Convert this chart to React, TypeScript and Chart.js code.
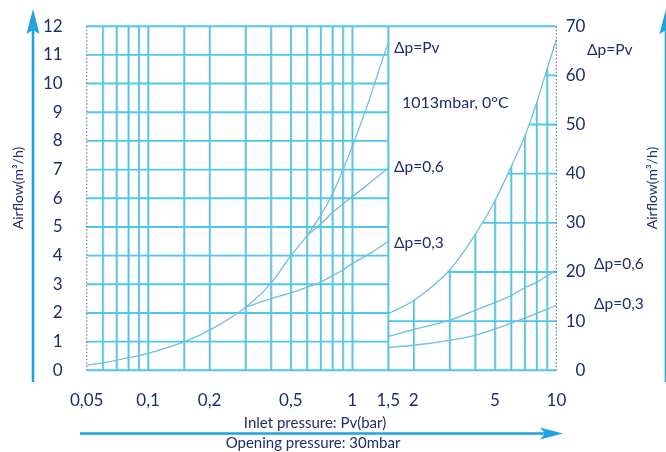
import React, { useEffect, useRef } from "react";
import { Chart, registerables } from "chart.js";

Chart.register(...registerables);

// ---- axis ticks / grid values ----
const xTickValues = [0.05, 0.1, 0.2, 0.5, 1, 1.5, 2, 5, 10];
const leftYTicks = [0, 1, 2, 3, 4, 5, 6, 7, 8, 9, 10, 11, 12];
const rightYTicks = [0, 10, 20, 30, 40, 50, 60, 70];
const leftGridX = [0.06, 0.07, 0.08, 0.09, 0.1, 0.15, 0.2, 0.3, 0.4, 0.5, 0.6, 0.7, 0.8, 0.9, 1];
const rightGridX = [2, 3, 4, 5, 6, 7, 8, 9];
const leftGridY = [1, 2, 3, 4, 5, 6, 7, 8, 9, 10, 11];
const rightGridY = [10, 20, 30, 40, 50, 60];
const panelSplit = 1.5;

// ---- series (left panel, m³/h 0..12) ----
const pvLeftX = [0.05, 0.06, 0.07, 0.08, 0.09, 0.1, 0.15, 0.2, 0.3, 0.4, 0.5, 0.6, 0.7, 0.8, 0.9, 1, 1.1, 1.2, 1.3, 1.4, 1.5];
const pvLeftY = [0.18, 0.26, 0.35, 0.44, 0.51, 0.59, 0.99, 1.4, 2.2, 3.04, 4.0, 4.7, 5.4, 6.15, 7.0, 7.8, 8.6, 9.35, 10.1, 10.8, 11.4];
const p06LeftX = [0.6, 0.7, 0.8, 0.9, 1, 1.25, 1.5];
const p06LeftY = [4.7, 5.1, 5.5, 5.8, 6.05, 6.6, 7.05];
const p03LeftX = [0.3, 0.4, 0.5, 0.6, 0.7, 0.8, 0.9, 1, 1.25, 1.5];
const p03LeftY = [2.2, 2.5, 2.7, 2.9, 3.08, 3.3, 3.5, 3.72, 4.12, 4.5];

// ---- series (right panel, m³/h 0..70) ----
const rightX = [1.5, 2, 3, 4, 5, 6, 7, 8, 9, 10];
const pvRightY = [11.5, 14.2, 20.4, 27.6, 34.5, 41.4, 47.6, 54.4, 61.3, 67.3];
const p06RightY = [6.9, 8.3, 10.2, 12.2, 13.8, 15.2, 16.8, 17.9, 19.2, 20.3];
const p03RightY = [4.65, 5.1, 6.1, 7.1, 8.4, 9.6, 10.6, 11.6, 12.4, 13.2];

const NAVY = "#1d2d6b";
const GRID = "#4cc8ec";
const GRID2 = "rgba(110,150,185,0.5)";
const CURVE = "#72bedc";
const ARROW = "#1ba4e0";
const FONT = "Lato, 'Open Sans', sans-serif";

const fmt = (v: number) => String(v).replace(".", ",");
const pts = (xs: number[], ys: number[]) => xs.map((x, i) => ({ x, y: ys[i] }));

const gridPlugin = {
  id: "customGrid",
  beforeDraw(chart: any) {
    const { ctx, chartArea, scales } = chart;
    const { left, right, top, bottom } = chartArea;
    const x = scales.x, y = scales.y, y2 = scales.y2;
    const xs = x.getPixelForValue(panelSplit);
    ctx.save();
    const vline = (px: number) => {
      ctx.strokeStyle = GRID;
      ctx.lineWidth = 1.6;
      ctx.beginPath(); ctx.moveTo(px, top); ctx.lineTo(px, bottom); ctx.stroke();
      ctx.strokeStyle = GRID2;
      ctx.lineWidth = 0.8;
      ctx.beginPath(); ctx.moveTo(px + 1, top); ctx.lineTo(px + 1, bottom); ctx.stroke();
    };
    leftGridX.forEach((v) => vline(x.getPixelForValue(v)));
    rightGridX.forEach((v) => vline(x.getPixelForValue(v)));
    ctx.strokeStyle = GRID;
    ctx.lineWidth = 1.9;
    leftGridY.forEach((v) => {
      const py = y.getPixelForValue(v);
      ctx.beginPath(); ctx.moveTo(left, py); ctx.lineTo(xs, py); ctx.stroke();
    });
    rightGridY.forEach((v) => {
      const py = y2.getPixelForValue(v);
      ctx.beginPath(); ctx.moveTo(xs, py); ctx.lineTo(right, py); ctx.stroke();
    });
    ctx.restore();
  },
  afterDatasetsDraw(chart: any) {
    const { ctx, chartArea, scales } = chart;
    const { left, right, top, bottom } = chartArea;
    const x = scales.x;
    const xs = x.getPixelForValue(panelSplit);
    ctx.save();
    ctx.strokeStyle = GRID;
    ctx.lineWidth = 1.9;
    ctx.beginPath(); ctx.moveTo(left, top); ctx.lineTo(right, top); ctx.stroke();
    ctx.beginPath(); ctx.moveTo(left, bottom); ctx.lineTo(right, bottom); ctx.stroke();
    ctx.lineWidth = 1.6;
    ctx.beginPath(); ctx.moveTo(xs, top); ctx.lineTo(xs, bottom); ctx.stroke();
    ctx.strokeStyle = GRID2;
    ctx.lineWidth = 0.8;
    ctx.beginPath(); ctx.moveTo(xs + 1, top); ctx.lineTo(xs + 1, bottom); ctx.stroke();
    ctx.strokeStyle = "rgba(60,90,140,0.8)";
    ctx.lineWidth = 1.2;
    ctx.setLineDash([1.5, 2]);
    ctx.beginPath(); ctx.moveTo(left, top); ctx.lineTo(left, bottom); ctx.stroke();
    ctx.beginPath(); ctx.moveTo(right, top); ctx.lineTo(right, bottom); ctx.stroke();
    ctx.setLineDash([]);
    ctx.restore();
  },
  afterDraw(chart: any) {
    const { ctx } = chart;
    ctx.save();
    ctx.strokeStyle = ARROW;
    ctx.fillStyle = ARROW;
    ctx.lineWidth = 2.6;
    const vArrow = (ax: number) => {
      ctx.beginPath(); ctx.moveTo(ax, 382); ctx.lineTo(ax, 28); ctx.stroke();
      ctx.beginPath(); ctx.moveTo(ax, 9); ctx.lineTo(ax - 6.5, 34); ctx.lineTo(ax, 30); ctx.lineTo(ax + 6.5, 34); ctx.closePath(); ctx.fill();
    };
    vArrow(33);
    vArrow(666);
    ctx.beginPath(); ctx.moveTo(80, 433.5); ctx.lineTo(548, 433.5); ctx.stroke();
    ctx.beginPath(); ctx.moveTo(563, 433.5); ctx.lineTo(540, 427.5); ctx.lineTo(545, 433.5); ctx.lineTo(540, 439.5); ctx.closePath(); ctx.fill();

    ctx.fillStyle = NAVY;
    ctx.textBaseline = "middle";
    ctx.textAlign = "left";
    ctx.font = `15.5px ${FONT}`;
    ctx.fillText("Δp=Pv", 394, 48);
    ctx.fillText("Δp=0,6", 394, 167);
    ctx.fillText("Δp=0,3", 394, 243);
    ctx.fillText("Δp=Pv", 587, 50);
    ctx.fillText("Δp=0,6", 594, 264);
    ctx.fillText("Δp=0,3", 594, 304);
    ctx.font = `16px ${FONT}`;
    ctx.fillText("1013mbar, 0°C", 402, 103);
    ctx.textAlign = "center";
    ctx.font = `15px ${FONT}`;
    ctx.fillText("Inlet pressure: Pv(bar)", 315, 423);
    ctx.fillText("Opening pressure: 30mbar", 313, 443);
    ctx.font = `14px ${FONT}`;
    [18, 652].forEach((tx) => {
      ctx.save();
      ctx.translate(tx, 188);
      ctx.rotate(-Math.PI / 2);
      ctx.fillText("Airflow(m³/h)", 0, 0);
      ctx.restore();
    });
    ctx.restore();
  },
};

export default function App() {
  const ref = useRef<HTMLCanvasElement | null>(null);
  useEffect(() => {
    if (!ref.current) return;
    Chart.defaults.font.family = FONT;
    const lineDs = (label: string, data: any[], yAxisID: string, extra: any = {}) => ({
      label,
      data,
      yAxisID,
      borderColor: CURVE,
      borderWidth: 1.3,
      pointRadius: 0,
      cubicInterpolationMode: "monotone",
      fill: false,
      ...extra,
    });
    const chart = new Chart(ref.current, {
      type: "line",
      data: {
        datasets: [
          lineDs("Δp=Pv", pts(pvLeftX, pvLeftY), "y"),
          lineDs("Δp=0,6", pts(p06LeftX, p06LeftY), "y"),
          lineDs("Δp=0,3", pts(p03LeftX, p03LeftY), "y"),
          lineDs("Δp=0,6 (right)", pts(rightX, p06RightY), "y2"),
          lineDs("Δp=0,3 (right)", pts(rightX, p03RightY), "y2"),
          lineDs("Δp=Pv (right)", pts(rightX, pvRightY), "y2", { fill: "end", backgroundColor: "#ffffff" }),
        ],
      },
      options: {
        animation: false,
        responsive: false,
        maintainAspectRatio: false,
        layout: { padding: { top: 24.3, right: 80.6, bottom: 0, left: 0 } },
        plugins: { legend: { display: false }, tooltip: { enabled: false } },
        scales: {
          x: {
            type: "logarithmic",
            min: 0.05,
            max: 10,
            grid: { display: false },
            border: { display: false },
            afterBuildTicks: (s: any) => {
              s.ticks = xTickValues.map((v) => ({ value: v }));
            },
            afterFit: (s: any) => {
              s.height = 81.7;
            },
            ticks: {
              autoSkip: false,
              maxRotation: 0,
              minRotation: 0,
              padding: 12.5,
              color: NAVY,
              font: { size: 17, family: FONT },
              callback: (v: any) => fmt(Number(v)),
            },
          },
          y: {
            type: "linear",
            position: "left",
            min: 0,
            max: 12,
            grid: { display: false },
            border: { display: false },
            afterBuildTicks: (s: any) => {
              s.ticks = leftYTicks.map((v) => ({ value: v }));
            },
            afterFit: (s: any) => {
              s.width = 86.7;
            },
            ticks: { padding: 16, color: NAVY, font: { size: 17, family: FONT } },
          },
          y2: {
            type: "linear",
            position: "right",
            min: 0,
            max: 70,
            grid: { display: false },
            border: { display: false },
            afterBuildTicks: (s: any) => {
              s.ticks = rightYTicks.map((v) => ({ value: v }));
            },
            afterFit: (s: any) => {
              s.width = 29;
            },
            ticks: { crossAlign: "far", padding: 8, color: NAVY, font: { size: 17, family: FONT } },
          },
        },
      },
      plugins: [gridPlugin],
    } as any);
    return () => chart.destroy();
  }, []);
  return (
    <div style={{ position: "fixed", left: 0, top: 0, width: 666, height: 452, background: "#fff" }}>
      <canvas ref={ref} width={666} height={452} style={{ display: "block", width: 666, height: 452 }} />
    </div>
  );
}
